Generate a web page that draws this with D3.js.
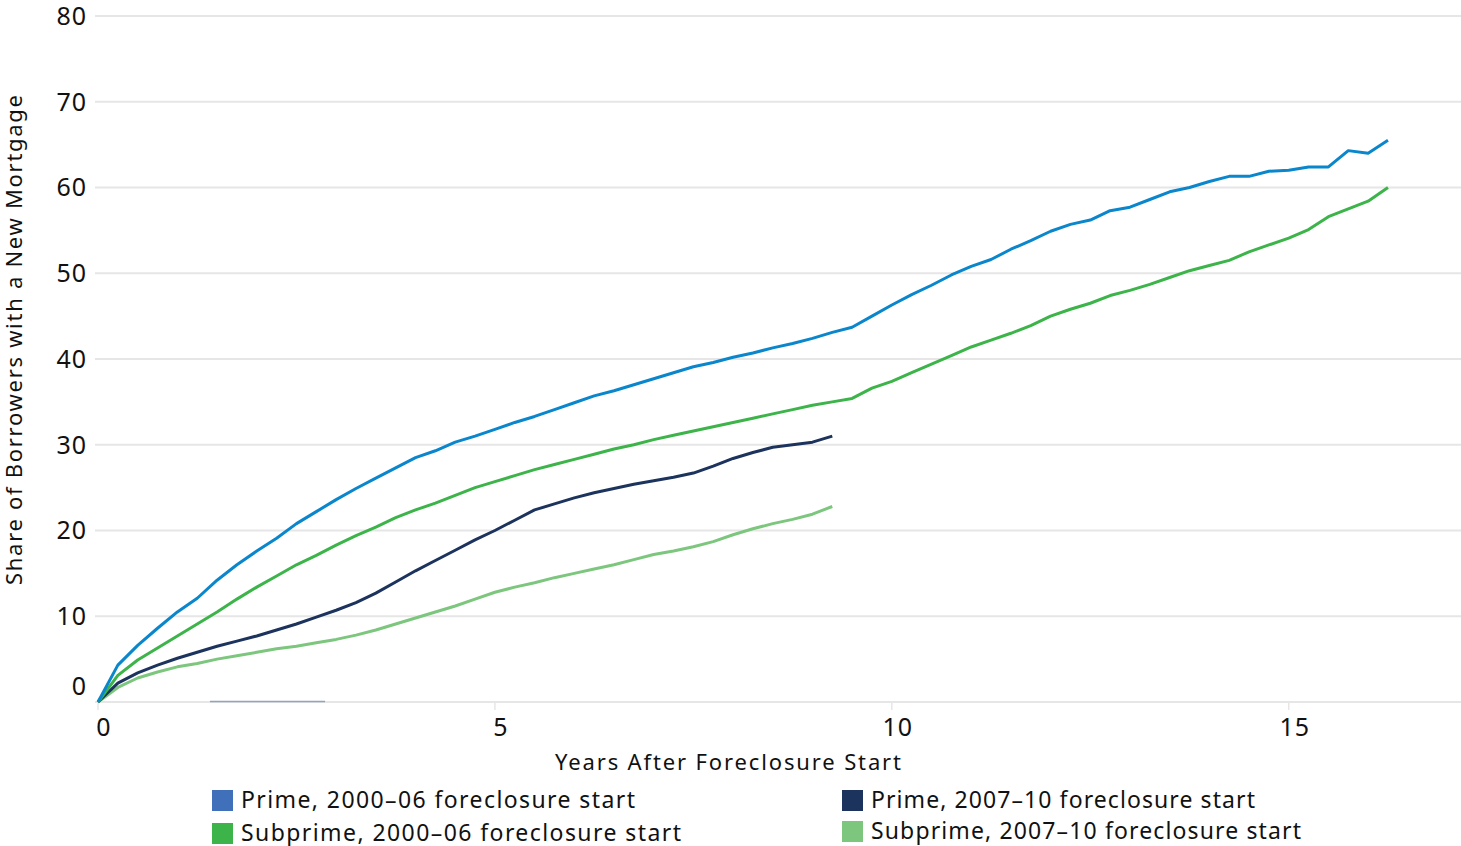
<!DOCTYPE html>
<html><head><meta charset="utf-8">
<script src="https://cdn.jsdelivr.net/npm/d3@7"></script>
<style>
html,body{margin:0;padding:0;background:#fff;}
svg{display:block;font-family:"Noto Sans","Open Sans",sans-serif;}
</style></head>
<body>
<svg id="chart" width="1461" height="846"></svg>
<script>
// Years after foreclosure start (quarterly)
const years = d3.range(0, 16.26, 0.25);
const prime0006 = [0,4.3,6.6,8.6,10.5,12.1,14.2,16.0,17.6,19.1,20.8,22.2,23.6,24.9,26.1,27.3,28.5,29.3,30.3,31.0,31.8,32.6,33.3,34.1,34.9,35.7,36.3,37.0,37.7,38.4,39.1,39.6,40.2,40.7,41.3,41.8,42.4,43.1,43.7,45.0,46.3,47.5,48.6,49.8,50.8,51.6,52.8,53.8,54.9,55.7,56.2,57.3,57.7,58.6,59.5,60.0,60.7,61.3,61.3,61.9,62.0,62.4,62.4,64.3,64.0,65.5];
const subprime0006 = [0,3.1,4.9,6.3,7.7,9.1,10.5,12.0,13.4,14.7,16.0,17.1,18.3,19.4,20.4,21.5,22.4,23.2,24.1,25.0,25.7,26.4,27.1,27.7,28.3,28.9,29.5,30.0,30.6,31.1,31.6,32.1,32.6,33.1,33.6,34.1,34.6,35.0,35.4,36.6,37.4,38.4,39.4,40.4,41.4,42.2,43.0,43.9,45.0,45.8,46.5,47.4,48.0,48.7,49.5,50.3,50.9,51.5,52.5,53.3,54.1,55.1,56.6,57.5,58.4,60.0];
const prime0710 = [0,2.2,3.4,4.3,5.1,5.8,6.5,7.1,7.7,8.4,9.1,9.9,10.7,11.6,12.7,14.0,15.3,16.5,17.7,18.9,20.0,21.2,22.4,23.1,23.8,24.4,24.9,25.4,25.8,26.2,26.7,27.5,28.4,29.1,29.7,30.0,30.3,31.0];
const subprime0710 = [0,1.7,2.8,3.5,4.1,4.5,5.0,5.4,5.8,6.2,6.5,6.9,7.3,7.8,8.4,9.1,9.8,10.5,11.2,12.0,12.8,13.4,13.9,14.5,15.0,15.5,16.0,16.6,17.2,17.6,18.1,18.7,19.5,20.2,20.8,21.3,21.9,22.8];

const seriesNames = ["Prime, 2000–06 foreclosure start","Prime, 2007–10 foreclosure start","Subprime, 2000–06 foreclosure start","Subprime, 2007–10 foreclosure start"];
const lineColors = ["#0a86cc","#1c335e","#3cb44a","#7dc67e"];
const legendColors = ["#3f70b9","#1c335e","#3cb44a","#7dc67e"];
const yTicks = [0,10,20,30,40,50,60,70,80];
const xTicks = [0,5,10,15];
const straySegment = [1.41, 2.86]; // faint segment seen on the baseline

const svg = d3.select("#chart");
const x = d3.scaleLinear().domain([0, 17.17]).range([98, 1461]);
const y = d3.scaleLinear().domain([0, 80]).range([702, 16]);

// gridlines
svg.append("g").selectAll("line").data(yTicks).join("line")
  .attr("x1", 95).attr("x2", 1461)
  .attr("y1", d => y(d)).attr("y2", d => y(d))
  .attr("stroke", "#e6e6e6").attr("stroke-width", 2);

// y labels
svg.append("g").selectAll("text").data(yTicks).join("text")
  .attr("x", 87).attr("y", d => d === 0 ? y(d) - 16 : y(d))
  .attr("dy", "0.35em").attr("text-anchor", "end")
  .attr("font-size", 25).attr("letter-spacing", 1).attr("fill", "#111").text(d => d);

// x ticks
const xa = svg.append("g").attr("transform", "translate(0,702)");
xa.selectAll("line").data(xTicks).join("line")
  .attr("x1", d => x(d)).attr("x2", d => x(d)).attr("y1", 0).attr("y2", 8)
  .attr("stroke", "#e6e6e6").attr("stroke-width", 1.5);
xa.selectAll("text").data(xTicks).join("text")
  .attr("x", d => x(d) + 6).attr("y", 25).attr("dy", "0.35em")
  .attr("text-anchor", "middle").attr("font-size", 25).attr("letter-spacing", 1).attr("fill", "#111").text(d => d);

// stray segment
svg.append("line").attr("x1", x(straySegment[0])).attr("x2", x(straySegment[1]))
  .attr("y1", y(0) - 0.5).attr("y2", y(0) - 0.5)
  .attr("stroke", "#8fa4c0").attr("stroke-width", 1.5);

// lines
const line = d3.line().x((d, i) => x(years[i])).y(d => y(d));
const seriesData = [prime0006, prime0710, subprime0006, subprime0710];
const drawOrder = [3, 1, 2, 0];
drawOrder.forEach(i => {
  svg.append("path").datum(seriesData[i]).attr("d", line)
    .attr("fill", "none").attr("stroke", lineColors[i]).attr("stroke-width", 3)
    .attr("stroke-linejoin", "round");
});

// axis titles
svg.append("text").attr("x", 728).attr("y", 762).attr("dy", "0.35em")
  .attr("text-anchor", "middle").attr("font-size", 22).attr("fill", "#111")
  .attr("textLength", 346).attr("lengthAdjust", "spacing")
  .text("Years After Foreclosure Start");
svg.append("text").attr("transform", "translate(14,340) rotate(-90)").attr("dy", "0.35em")
  .attr("text-anchor", "middle").attr("font-size", 22).attr("fill", "#111")
  .attr("textLength", 490).attr("lengthAdjust", "spacing")
  .text("Share of Borrowers with a New Mortgage");

// legend
const legendPos = [[212, 800], [842, 800], [212, 833], [842, 831]];
const legendLen = [394, 384, 440, 430];
const lg = svg.append("g");
seriesNames.forEach((n, i) => {
  const [lx, ly] = legendPos[i];
  lg.append("rect").attr("x", lx).attr("y", ly - 10).attr("width", 21).attr("height", 21).attr("fill", legendColors[i]);
  lg.append("text").attr("x", lx + 29).attr("y", ly).attr("dy", "0.35em")
    .attr("font-size", 23).attr("fill", "#111")
    .attr("textLength", legendLen[i]).attr("lengthAdjust", "spacing").text(n);
});
</script>
</body></html>
